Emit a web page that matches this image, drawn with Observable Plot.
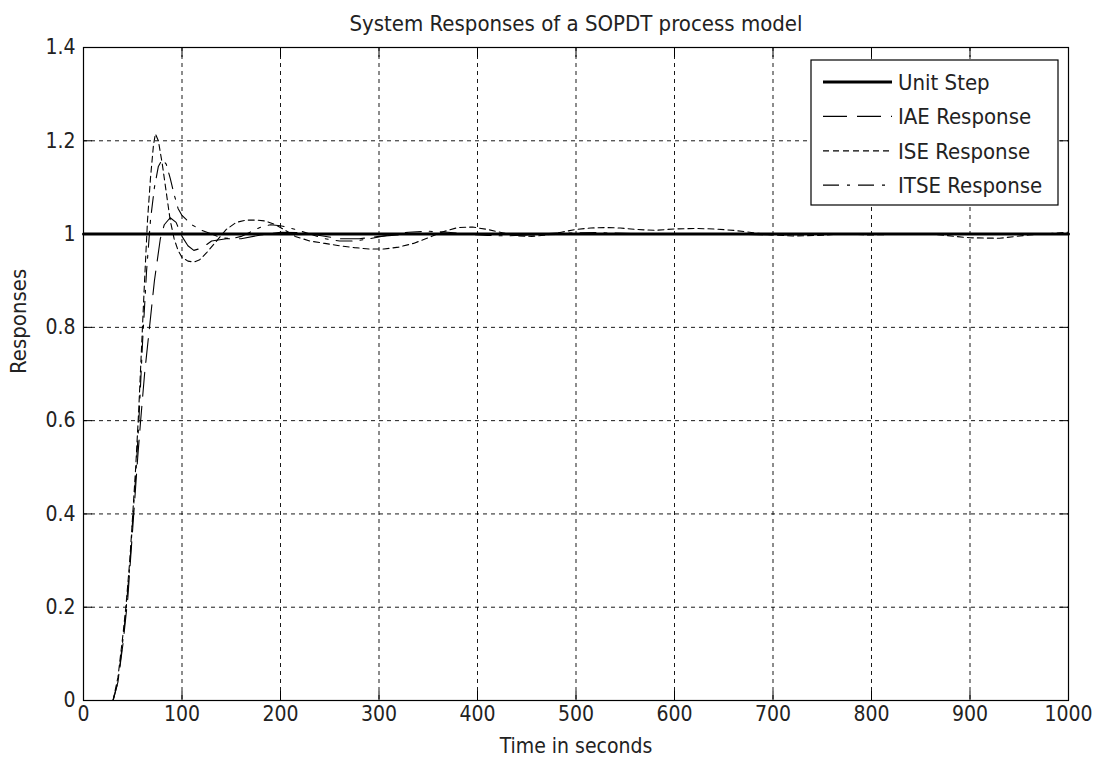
<!DOCTYPE html>
<html><head><meta charset="utf-8">
<script src="https://cdn.jsdelivr.net/npm/d3@7"></script>
<script src="https://cdn.jsdelivr.net/npm/@observablehq/plot@0.6"></script>
<style>
body{margin:0;background:#fff;}
</style>
</head><body><div id="chart"></div>
<script>
const titleText = "System Responses of a SOPDT process model";
const xLabel = "Time in seconds";
const yLabel = "Responses";
const xTicks = [0,100,200,300,400,500,600,700,800,900,1000];
const yTicks = [0,0.2,0.4,0.6,0.8,1,1.2,1.4];
const seriesNames = ["Unit Step","IAE Response","ISE Response","ITSE Response"];

const stepT = [0,1000];
const stepV = [1,1];

const iaeT = [30,35,40,45,50,55,58,62,67,72,78,82,88,94,100,106,112,120,130,145,160,180,200,220,240,260,280,300,330,360,400,450,500,550,600,650,700,750,800,850,900,950,1000];
const iaeV = [0,0.04,0.12,0.22,0.37,0.52,0.6,0.7,0.8,0.9,0.99,1.02,1.035,1.025,0.995,0.975,0.965,0.97,0.985,0.99,0.99,0.998,1.004,1.003,0.997,0.99,0.99,0.995,1.0,1.002,1.0,0.998,1.0,1.001,1.0,1.0,0.998,1.0,1.0,1.0,1.0,1.0,1.0];

const iseT = [30,35,40,43,47,50,53,56,59,62,65,68,71,73,76,80,84,88,92,96,100,106,112,118,125,135,145,155,165,175,185,195,205,215,230,245,260,275,290,305,320,335,350,365,380,395,410,425,440,455,470,485,500,515,530,545,560,580,600,620,640,660,680,700,720,745,770,800,830,860,900,930,960,1000];
const iseV = [0,0.05,0.14,0.2,0.3,0.4,0.5,0.62,0.76,0.9,1.03,1.12,1.19,1.215,1.2,1.15,1.09,1.03,0.99,0.965,0.95,0.942,0.94,0.945,0.96,0.985,1.01,1.025,1.03,1.03,1.028,1.02,1.008,0.995,0.985,0.98,0.975,0.971,0.968,0.968,0.972,0.98,0.992,1.005,1.014,1.015,1.01,1.003,0.996,0.995,0.998,1.004,1.01,1.013,1.014,1.013,1.01,1.008,1.011,1.012,1.011,1.008,1.003,0.998,0.996,0.997,1.0,0.998,1.0,1.0,0.992,0.991,0.998,1.004];

const itseT = [30,35,40,43,47,50,53,56,60,64,68,72,76,80,84,88,92,96,100,105,110,120,130,140,150,160,170,180,190,200,215,230,245,260,275,290,310,330,350,370,390,410,430,450,480,520,560,600,650,700,750,800,850,900,950,1000];
const itseV = [0,0.04,0.13,0.19,0.29,0.39,0.48,0.59,0.77,0.92,1.03,1.1,1.145,1.16,1.15,1.12,1.085,1.055,1.04,1.03,1.02,1.008,1.0,0.992,0.99,0.995,1.005,1.015,1.02,1.018,1.01,1.0,0.99,0.985,0.985,0.99,0.998,1.004,1.006,1.004,1.0,0.997,0.996,0.998,1.002,1.003,1.001,0.999,1.0,1.0,1.0,1.0,1.0,1.0,1.0,1.0];

const toRows = (ts, vs) => ts.map((t, i) => ({t, v: vs[i]}));
const stepRows = toRows(stepT, stepV);
const iaeRows = toRows(iaeT, iaeV);
const iseRows = toRows(iseT, iseV);
const itseRows = toRows(itseT, itseV);

const FONT = "'DejaVu Sans Condensed', 'Liberation Sans Narrow', sans-serif";
const dashIAE = "24,10";
const dashISE = "6,4";
const dashITSE = "16,8,3,8";

const plot = Plot.plot({
  width: 1093,
  height: 767,
  marginLeft: 83,
  marginRight: 25,
  marginTop: 47,
  marginBottom: 67,
  style: {fontFamily: FONT, fontSize: "21px", background: "#fff", color: "#000"},
  x: {domain: [0, 1000]},
  y: {domain: [0, 1.4]},
  marks: [
    Plot.gridX(xTicks, {stroke: "#000", strokeOpacity: 0.9, strokeDasharray: "4,4"}),
    Plot.gridY(yTicks, {stroke: "#000", strokeOpacity: 0.9, strokeDasharray: "4,4"}),
    Plot.axisX(xTicks, {anchor: "bottom", tickSize: 0, tickPadding: 6, fontSize: 21, fill: "#222", label: null, tickFormat: d => String(d)}),
    Plot.axisY(yTicks, {anchor: "left", tickSize: 0, tickPadding: 8, fontSize: 21, fill: "#222", label: null, tickFormat: d => String(d)}),
    Plot.axisX(xTicks, {anchor: "bottom", tickSize: -9, label: null, tickFormat: () => ""}),
    Plot.axisX(xTicks, {anchor: "top", tickSize: -9, label: null, tickFormat: () => ""}),
    Plot.axisY(yTicks, {anchor: "left", tickSize: -9, label: null, tickFormat: () => ""}),
    Plot.axisY(yTicks, {anchor: "right", tickSize: -9, label: null, tickFormat: () => ""}),
    Plot.line(iaeRows, {x: "t", y: "v", stroke: "#000", strokeWidth: 1.1, strokeDasharray: dashIAE}),
    Plot.line(iseRows, {x: "t", y: "v", stroke: "#000", strokeWidth: 1.1, strokeDasharray: dashISE}),
    Plot.line(itseRows, {x: "t", y: "v", stroke: "#000", strokeWidth: 1.1, strokeDasharray: dashITSE}),
    Plot.line(stepRows, {x: "t", y: "v", stroke: "#000", strokeWidth: 3}),
    Plot.frame({stroke: "#000", strokeWidth: 1.2}),
    Plot.text([titleText], {frameAnchor: "top", dy: -32, fontSize: 22, fill: "#222"}),
    Plot.text([xLabel], {frameAnchor: "bottom", dy: 52, fontSize: 21, fill: "#222"}),
    Plot.text([yLabel], {frameAnchor: "left", dx: -65, rotate: -90, fontSize: 22, fill: "#222"})
  ]
});

document.getElementById("chart").appendChild(plot);

// Legend (MATLAB-style box in the upper right)
const svg = d3.select(plot);
const lg = svg.append("g").attr("font-family", FONT).attr("font-size", 22)
  .attr("fill", "#222").attr("text-anchor", "start");
lg.append("rect").attr("x", 811).attr("y", 60).attr("width", 247).attr("height", 145)
  .attr("fill", "#fff").attr("stroke", "#000").attr("stroke-width", 1.2);
const legendStyles = [
  {w: 3, dash: null},
  {w: 1.2, dash: dashIAE},
  {w: 1.2, dash: dashISE},
  {w: 1.2, dash: dashITSE}
];
seriesNames.forEach((name, i) => {
  const y = 82 + i * 34.4;
  const ln = lg.append("line").attr("x1", 823).attr("x2", 892).attr("y1", y).attr("y2", y)
    .attr("stroke", "#000").attr("stroke-width", legendStyles[i].w);
  if (legendStyles[i].dash) ln.attr("stroke-dasharray", legendStyles[i].dash);
  lg.append("text").attr("x", 898).attr("y", y).attr("dy", "0.35em")
    .attr("text-anchor", "start").text(name);
});
</script>
</body></html>
